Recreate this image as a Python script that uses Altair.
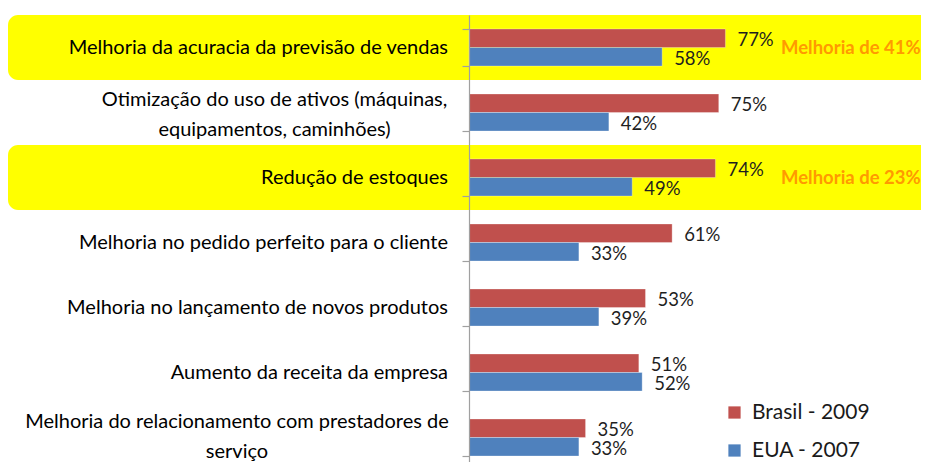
import altair as alt
import pandas as pd

categorias = [
    "Melhoria da acuracia da previsão de vendas",
    "Otimização do uso de ativos (máquinas,\nequipamentos, caminhões)",
    "Redução de estoques",
    "Melhoria no pedido perfeito para o cliente",
    "Melhoria no lançamento de novos produtos",
    "Aumento da receita da empresa",
    "Melhoria do relacionamento com prestadores de \nserviço",
]
brasil_2009 = [77, 75, 74, 61, 53, 51, 35]
eua_2007 = [58, 42, 49, 33, 39, 52, 33]
series = ["Brasil - 2009", "EUA - 2007"]
cores = ["#C0504D", "#4F81BD"]
destaques = [categorias[0], categorias[2]]
anotacoes = ["Melhoria de 41%", "Melhoria de 23%"]

FONT = "Lato"

rows = []
for c, b, e in zip(categorias, brasil_2009, eua_2007):
    rows.append({"cat": c, "serie": series[0], "valor": b})
    rows.append({"cat": c, "serie": series[1], "valor": e})
df = pd.DataFrame(rows)
df_cat = pd.DataFrame({"cat": categorias})
df_hl = pd.DataFrame({"cat": destaques, "texto": anotacoes})

yscale = alt.Scale(domain=categorias, range=[0, 455], paddingInner=0.43, paddingOuter=0.215)
y_axis = alt.Y(
    "cat:N", sort=categorias, scale=yscale, title=None,
    axis=alt.Axis(labels=False, domainColor="#A0A0A0", tickColor="#A0A0A0",
                  tickSize=7, tickBand="extent", zindex=2, domainWidth=1.2, tickWidth=1.2),
)
y_plain = alt.Y("cat:N", sort=categorias, scale=yscale, title=None)
x_enc = alt.X("valor:Q", scale=alt.Scale(domain=[0, 100]), axis=None)

hl = alt.Chart(df_hl).mark_bar(height=65, cornerRadius=10, color="#FFFF00").encode(
    y=y_axis, x=alt.value(-461), x2=alt.value(470)
)

bars = alt.Chart(df).mark_bar(stroke="#ffffff", strokeWidth=0.6, strokeOpacity=0.5).encode(
    y=y_plain,
    yOffset=alt.YOffset("serie:N", sort=series, scale=alt.Scale(domain=series, paddingInner=0, paddingOuter=0)),
    x=x_enc,
    color=alt.Color(
        "serie:N", sort=series, scale=alt.Scale(domain=series, range=cores),
        legend=alt.Legend(orient="none", legendX=255, legendY=387, title=None,
                          symbolType="square", symbolSize=150, symbolStrokeWidth=0,
                          labelFont=FONT, labelFontSize=21, labelColor="#1a1a1a",
                          rowPadding=16, labelOffset=7, padding=0),
    ),
)

vals = alt.Chart(df).transform_calculate(txt="datum.valor + '%'").mark_text(
    align="left", baseline="middle", dx=12, dy=2, font=FONT, fontSize=18.5, color="#1f1f1f"
).encode(
    y=y_plain,
    yOffset=alt.YOffset("serie:N", sort=series),
    x=x_enc,
    text="txt:N",
)

anot = alt.Chart(df_hl).mark_text(
    align="left", baseline="middle", font=FONT, fontSize=18.5, fontWeight="bold", color="#FF9A00"
).encode(y=y_plain, x=alt.value(312), text="texto:N")

single = [c for c in categorias if "\n" not in c]
lab1 = alt.Chart(df_cat).transform_filter(
    alt.FieldOneOfPredicate(field="cat", oneOf=single)
).mark_text(align="right", baseline="middle", font=FONT, fontSize=20, color="#000000").encode(
    y=y_plain, x=alt.value(-21), text="cat:N"
)

lab2 = alt.Chart(df_cat).transform_filter(
    alt.FieldEqualPredicate(field="cat", equal=categorias[1])
).mark_text(align="center", baseline="middle", lineBreak="\n", lineHeight=30, dy=-13,
            font=FONT, fontSize=20, color="#000000").encode(
    y=y_plain, x=alt.value(-194.5), text="cat:N"
)

lab3 = alt.Chart(df_cat).transform_filter(
    alt.FieldEqualPredicate(field="cat", equal=categorias[6])
).mark_text(align="center", baseline="middle", lineBreak="\n", lineHeight=30, dy=-16,
            font=FONT, fontSize=20, color="#000000").encode(
    y=y_plain, x=alt.value(-232), text="cat:N"
)

chart = alt.layer(hl, bars, vals, anot, lab1, lab2, lab3).properties(
    width=333, height=447,
    autosize=alt.AutoSizeParams(type="none"),
    padding={"left": 461, "top": 7, "right": 119, "bottom": 0},
).configure_view(stroke=None)

chart.save("out.html", embed_options={"renderer": "svg", "actions": False})
